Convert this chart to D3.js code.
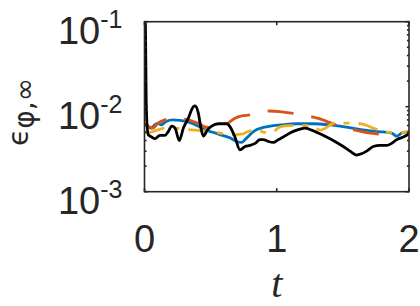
<!DOCTYPE html>
<html>
<head>
<meta charset="utf-8">
<script src="https://cdn.jsdelivr.net/npm/d3@7"></script>
<style>
  body { margin: 0; background: #fff; }
  svg { display: block; }
  .tick-label { font-family: "Liberation Sans", Arial, Helvetica, sans-serif; fill: #262626; }
</style>
</head>
<body>
<div id="chart"></div>
<script>
const width = 420, height = 306;
const margin = { left: 144.5, right: 11, top: 21.7, bottom: 114.3 };

// data: [t, value]
const blackLine = [
  [0, 0.09], [0.006, 0.1], [0.014, 0.0095], [0.028, 0.0047], [0.054, 0.0044], [0.079, 0.0042],
  [0.117, 0.0046], [0.155, 0.0046], [0.18, 0.0051], [0.206, 0.0059], [0.231, 0.0056],
  [0.263, 0.0040], [0.294, 0.0056], [0.331, 0.0073], [0.369, 0.0100], [0.382, 0.0102],
  [0.407, 0.0084], [0.425, 0.0058], [0.445, 0.0045], [0.475, 0.0053], [0.508, 0.0059],
  [0.558, 0.0063], [0.621, 0.0063], [0.647, 0.0058], [0.684, 0.0044], [0.722, 0.0031],
  [0.76, 0.0034], [0.798, 0.0035], [0.836, 0.0037], [0.873, 0.0041], [0.898, 0.0041],
  [0.936, 0.0039], [0.974, 0.0038], [1.012, 0.0041], [1.05, 0.0044], [1.1, 0.0049],
  [1.151, 0.0053], [1.214, 0.0056], [1.264, 0.0053], [1.314, 0.0049], [1.377, 0.0044],
  [1.44, 0.0039], [1.503, 0.0034], [1.554, 0.0030], [1.604, 0.0027], [1.642, 0.0028],
  [1.68, 0.0030], [1.73, 0.0034], [1.781, 0.0035], [1.831, 0.0035], [1.869, 0.0037],
  [1.907, 0.0041], [1.957, 0.0044], [2.0, 0.0048]
];
const blueLine = [
  [0.004, 0.0064], [0.026, 0.0058], [0.049, 0.0056], [0.077, 0.0061], [0.102, 0.0064],
  [0.125, 0.0061], [0.163, 0.0067], [0.215, 0.0070], [0.266, 0.0069], [0.314, 0.0067],
  [0.367, 0.0063], [0.417, 0.0058], [0.465, 0.0053], [0.518, 0.0050], [0.571, 0.0047],
  [0.647, 0.0043], [0.697, 0.0039], [0.735, 0.0038], [0.773, 0.0043], [0.823, 0.0051],
  [0.898, 0.0057], [0.974, 0.0060], [1.025, 0.0061], [1.151, 0.0063], [1.274, 0.0063],
  [1.403, 0.0061], [1.539, 0.0057], [1.667, 0.0053], [1.766, 0.0051], [1.869, 0.0049],
  [1.907, 0.0045], [1.945, 0.0049], [2.0, 0.0051]
];
const orangeLine = [
  [0.004, 0.0064], [0.034, 0.0058], [0.064, 0.0056], [0.102, 0.0064], [0.155, 0.0070],
  [0.208, 0.0073], [0.266, 0.0073], [0.316, 0.0071], [0.367, 0.0067], [0.417, 0.0063],
  [0.455, 0.0058], [0.51, 0.0057], [0.571, 0.0060], [0.631, 0.0064], [0.684, 0.0073],
  [0.735, 0.0078], [0.798, 0.0080], [0.873, 0.0086], [0.949, 0.0089], [1.037, 0.0087],
  [1.176, 0.0081], [1.251, 0.0077], [1.314, 0.0073], [1.403, 0.0065], [1.491, 0.0058],
  [1.569, 0.0054], [1.667, 0.0050], [1.794, 0.0047], [1.894, 0.0043]
];
const yellowLine = [
  [0.004, 0.0050], [0.04, 0.0050], [0.095, 0.0053], [0.155, 0.0056], [0.23, 0.0056],
  [0.306, 0.0054], [0.382, 0.0053], [0.457, 0.0052], [0.533, 0.0050], [0.609, 0.0048],
  [0.684, 0.0047], [0.745, 0.0048], [0.798, 0.0052], [0.851, 0.0053], [0.911, 0.0050],
  [0.964, 0.0050], [1.025, 0.0058], [1.1, 0.0060], [1.214, 0.0060], [1.267, 0.0059],
  [1.33, 0.0053], [1.44, 0.0064], [1.54, 0.0064], [1.59, 0.0064], [1.667, 0.0061],
  [1.743, 0.0055], [1.82, 0.0050], [1.9, 0.0050], [1.95, 0.0050], [2.0, 0.0051]
];
const xTicks = [0, 1, 2];
const yTicks = [-3, -2, -1];

const x = d3.scaleLinear().domain([0, 2]).range([margin.left, width - margin.right]);
const y = d3.scaleLog().domain([1e-3, 1e-1]).range([height - margin.bottom, margin.top]);

const svg = d3.select("#chart").append("svg")
  .attr("width", width)
  .attr("height", height);

svg.append("clipPath").attr("id", "plot-clip")
  .append("rect")
  .attr("x", x(0)).attr("y", y(1e-1))
  .attr("width", x(2) - x(0)).attr("height", y(1e-3) - y(1e-1));

const line = d3.line()
  .x(d => x(d[0]))
  .y(d => y(d[1]))
  .curve(d3.curveMonotoneX);

const series = [
  { data: blueLine, color: "#0072BD", dash: null },
  { data: orangeLine, color: "#D95319", dash: "26,18" },
  { data: yellowLine, color: "#EDB120", dash: "20,9,6,9" },
  { data: blackLine, color: "#000000", dash: null }
];

const plot = svg.append("g").attr("clip-path", "url(#plot-clip)");
plot.selectAll("path.series")
  .data(series)
  .join("path")
  .attr("class", "series")
  .attr("fill", "none")
  .attr("stroke", d => d.color)
  .attr("stroke-width", 2.8)
  .attr("stroke-linejoin", "round")
  .attr("stroke-dasharray", d => d.dash)
  .attr("d", d => line(d.data));

// axes box and ticks (matlab style, ticks inside)
const axisColor = "#262626";
const tickLen = 3.5;
const minor = [];
[-3, -2].forEach(e => { for (let k = 2; k <= 9; k++) minor.push(k * Math.pow(10, e)); });

const axes = svg.append("g").attr("stroke", axisColor).attr("stroke-width", 1.6);
axes.append("rect")
  .attr("x", x(0)).attr("y", y(1e-1))
  .attr("width", x(2) - x(0)).attr("height", y(1e-3) - y(1e-1))
  .attr("fill", "none");

axes.selectAll("line.ymaj")
  .data(yTicks.flatMap(e => [[Math.pow(10, e), x(0), 1], [Math.pow(10, e), x(2), -1]]))
  .join("line")
  .attr("x1", d => d[1]).attr("x2", d => d[1] + d[2] * tickLen)
  .attr("y1", d => y(d[0])).attr("y2", d => y(d[0]));

axes.selectAll("line.ymin")
  .data(minor.flatMap(v => [[v, x(0), 1], [v, x(2), -1]]))
  .join("line")
  .attr("x1", d => d[1]).attr("x2", d => d[1] + d[2] * tickLen * 0.6)
  .attr("y1", d => y(d[0])).attr("y2", d => y(d[0]));

axes.selectAll("line.xmaj")
  .data(xTicks.flatMap(t => [[t, y(1e-3), -1], [t, y(1e-1), 1]]))
  .join("line")
  .attr("x1", d => x(d[0])).attr("x2", d => x(d[0]))
  .attr("y1", d => d[1]).attr("y2", d => d[1] + d[2] * tickLen);

// tick labels
svg.selectAll("text.xlab")
  .data(xTicks)
  .join("text")
  .attr("class", "tick-label")
  .attr("x", d => x(d))
  .attr("y", y(1e-3) + 60)
  .attr("text-anchor", "middle")
  .attr("font-size", 38)
  .text(d => d);

const ylab = svg.selectAll("text.ylab")
  .data(yTicks)
  .join("text")
  .attr("class", "tick-label")
  .attr("x", x(0) - 22)
  .attr("y", d => y(Math.pow(10, d)) + 22)
  .attr("text-anchor", "end")
  .attr("font-size", 38);
ylab.append("tspan").text("10");
ylab.append("tspan")
  .attr("font-size", 25)
  .attr("dy", -16)
  .text(d => "-" + Math.abs(d));

// axis titles
svg.append("text")
  .attr("x", x(1))
  .attr("y", 297)
  .attr("text-anchor", "middle")
  .attr("font-family", "'Liberation Serif', 'DejaVu Serif', serif")
  .attr("font-style", "italic")
  .attr("font-size", 40)
  .attr("fill", axisColor)
  .text("t");

const yTitle = svg.append("text")
  .attr("transform", "translate(28,112) rotate(-90)")
  .attr("text-anchor", "middle")
  .attr("font-family", "'DejaVu Sans', sans-serif")
  .attr("fill", axisColor);
yTitle.append("tspan").attr("font-size", 28).text("\u03F5");
yTitle.append("tspan").attr("font-size", 28).attr("dy", 6).text("\u03C6,\u221E");
</script>
</body>
</html>
